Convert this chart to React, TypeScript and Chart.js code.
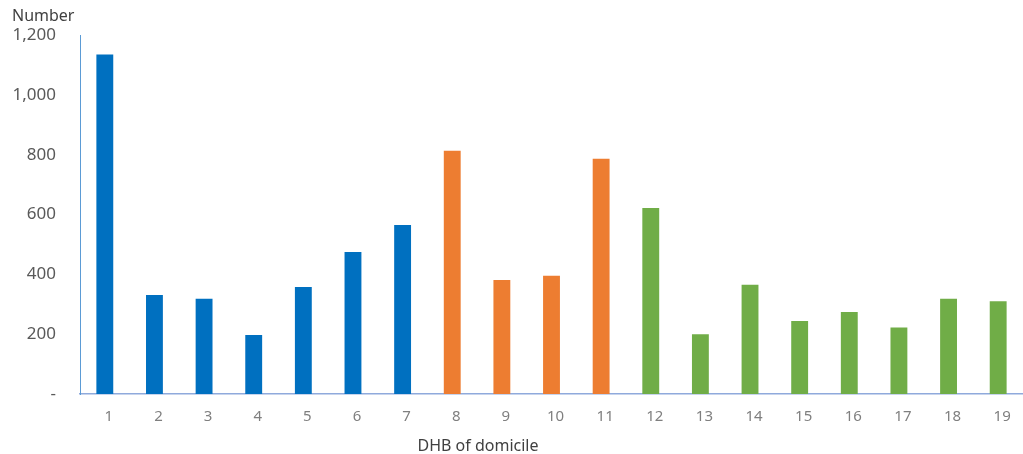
import React, { useEffect, useRef } from "react";
import { Chart, registerables } from "chart.js";

Chart.register(...registerables);

const categories = ["1","2","3","4","5","6","7","8","9","10","11","12","13","14","15","16","17","18","19"];
const values = [1135, 331, 318, 197, 358, 475, 565, 813, 381, 395, 786, 622, 200, 365, 244, 274, 222, 318, 310];
const groups = ["a","a","a","a","a","a","a","b","b","b","b","c","c","c","c","c","c","c","c"];
const groupColors: Record<string, string> = { a: "#0070C0", b: "#ED7D31", c: "#70AD47" };
const yTicks = [0, 200, 400, 600, 800, 1000, 1200];
const yTitle = "Number";
const xTitle = "DHB of domicile";

const FONT = "'Noto Sans', sans-serif";

export default function App() {
  const ref = useRef<HTMLCanvasElement | null>(null);
  useEffect(() => {
    if (!ref.current) return;
    const textPlugin = {
      id: "texts",
      afterDraw(chart: any) {
        const ctx = chart.ctx;
        ctx.save();
        ctx.fillStyle = "#404040";
        ctx.font = `16px ${FONT}`;
        ctx.textBaseline = "middle";
        ctx.textAlign = "left";
        ctx.fillText(yTitle, 12, 16);
        ctx.font = `16px ${FONT}`;
        ctx.textAlign = "center";
        ctx.fillText(xTitle, 478, 446);
        ctx.restore();
      },
    };
    const chart = new Chart(ref.current, {
      type: "bar",
      data: {
        labels: categories,
        datasets: [
          {
            data: values,
            backgroundColor: groups.map((g) => groupColors[g]),
            borderWidth: 0,
            barPercentage: 0.34,
            categoryPercentage: 1,
          },
        ],
      },
      options: {
        animation: false,
        responsive: false,
        maintainAspectRatio: false,
        layout: { padding: { top: 35, right: 0, left: 0, bottom: 0 } },
        plugins: {
          legend: { display: false },
          tooltip: { enabled: false },
          title: { display: false },
        },
        scales: {
          x: {
            grid: { display: false, drawTicks: false },
            border: { display: true, color: "#8FAADC", width: 1.5 },
            ticks: {
              color: "#7F7F7F",
              font: { family: FONT, size: 15 },
              padding: 14,
              labelOffset: 4,
            },
            afterFit: (scale: any) => {
              scale.height = 60;
            },
          },
          y: {
            min: 0,
            max: 1200,
            grid: { display: false, drawTicks: false },
            border: { display: true, color: "#5B9BD5", width: 1 },
            afterBuildTicks: (scale: any) => {
              scale.ticks = yTicks.map((v) => ({ value: v }));
            },
            ticks: {
              color: "#595959",
              font: { family: FONT, size: 17 },
              padding: 24,
              callback: (v: any) => (Number(v) === 0 ? "-" : Number(v).toLocaleString("en-US")),
            },
            afterFit: (scale: any) => {
              scale.width = 80;
            },
          },
        },
      },
      plugins: [textPlugin],
    });
    return () => chart.destroy();
  }, []);
  return (
    <div style={{ position: "absolute", left: 0, top: 0, width: 1023, height: 454, background: "#fff" }}>
      <canvas ref={ref} width={1023} height={454} />
    </div>
  );
}
